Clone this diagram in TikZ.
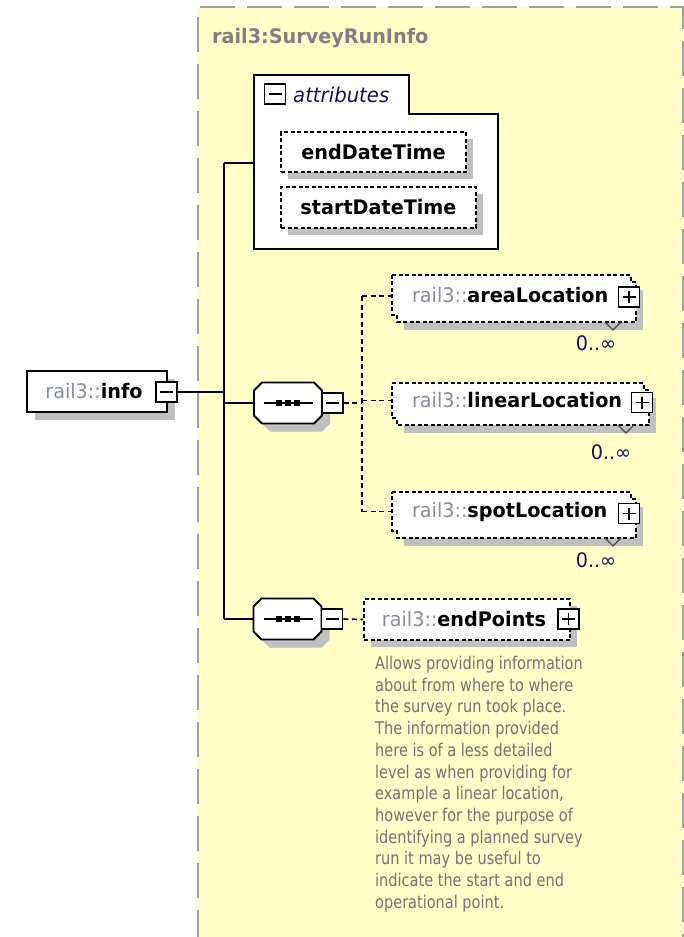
\documentclass[tikz,border=0pt]{standalone}
\usepackage{fontspec}
\usetikzlibrary{shadows,calc}
\newfontfamily\namefont[FakeStretch=0.96]{DejaVu Sans}
\newfontfamily\docfont[FakeStretch=0.83]{DejaVu Sans}
\definecolor{bgyellow}{RGB}{255,255,200}
\definecolor{bordergray}{RGB}{160,160,160}
\definecolor{shadowgray}{RGB}{192,192,192}
\definecolor{pfxgray}{RGB}{140,140,155}
\definecolor{titlegray}{RGB}{128,128,128}
\definecolor{doccolor}{RGB}{115,115,115}
\definecolor{navy}{RGB}{20,20,80}
\tikzset{
  conn/.style={line width=1.8pt, black},
  dconn/.style={line width=1.6pt, black, dash pattern=on 5pt off 3.5pt},
  namefnt/.style={font=\namefont\fontsize{20}{24}\selectfont},
  elbox/.style={draw, line width=1.8pt, fill=white, inner sep=0pt, namefnt},
  dashbox/.style={elbox, line width=1.6pt, dash pattern=on 4pt off 2.5pt},
  shadowed/.style={drop shadow={shadow xshift=#1, shadow yshift=-#1, fill=shadowgray, opacity=1}},
  pmbase/.style={draw=black, fill=white, line width=1.8pt, minimum width=21pt, minimum height=20pt, inner sep=0pt},
  minusbox/.style={pmbase, path picture={\draw[black, line width=1.6pt] ($(path picture bounding box.west)+(4,0)$) -- ($(path picture bounding box.east)+(-4,0)$);}},
  plusbox/.style={pmbase, path picture={\draw[black, line width=1.6pt] ($(path picture bounding box.west)+(4,0)$) -- ($(path picture bounding box.east)+(-4,0)$) ($(path picture bounding box.north)+(0,4)$) -- ($(path picture bounding box.south)+(0,-4)$);}},
  occ/.style={namefnt, text=navy, inner sep=0pt},
  frame/.style={inner sep=0pt, draw=none},
}
% multi-occurrence element: name, x1, y1, x2, y2, local name, label position
\newcommand\multiel[7]{%
  \fill[shadowgray] (#2+12,#3+15) rectangle (#4+12,#5+15);
  \filldraw[fill=white, draw=black, line width=1.6pt, dash pattern=on 4pt off 2.5pt]
    (#2,#3) -- (#4,#3) -- (#4,#3+7) -- (#4+5,#3+7) -- (#4+5,#5+7) -- (#2+5,#5+7) -- (#2+5,#5) -- (#2,#5) -- cycle;
  \draw[line width=1.3pt, black!70] (#4-26,#5+7) -- (#4-18,#5+15) -- (#4-10,#5+7);
  \node[frame, minimum width={#4-#2}, minimum height={#5-#3}] (#1) at ({(#2+#4)/2},{(#3+#5)/2}) {};
  \node[namefnt, inner sep=0pt, anchor=west] (#1-label) at ([xshift=20pt]#1.west) {\textcolor{pfxgray}{rail3::}\textbf{#6}};
  \node[plusbox] (#1-plus) at (#4-2,{(#3+#5)/2+2}) {};
  \node[occ] (#1-occ) at (#7) {0..∞};
}
% sequence compositor: name, cx, cy
\newcommand\seqel[3]{%
  \fill[shadowgray] (#2-26+8,#3-20.5+8) -- (#2+26+8,#3-20.5+8) -- (#2+34+8,#3-12.5+8) -- (#2+34+8,#3+12.5+8) -- (#2+26+8,#3+20.5+8) -- (#2-26+8,#3+20.5+8) -- (#2-34+8,#3+12.5+8) -- (#2-34+8,#3-12.5+8) -- cycle;
  \filldraw[fill=white, draw=black, line width=1.8pt] (#2-26,#3-20.5) -- (#2+26,#3-20.5) -- (#2+34,#3-12.5) -- (#2+34,#3+12.5) -- (#2+26,#3+20.5) -- (#2-26,#3+20.5) -- (#2-34,#3+12.5) -- (#2-34,#3-12.5) -- cycle;
  \node[frame, minimum width=68pt, minimum height=41pt] (#1) at (#2,#3) {};
  \draw[line width=1.5pt] (#2-24,#3) -- (#2+25,#3);
  \foreach \dx in {-9,0,9} {\fill (#2+\dx-3,#3-3) rectangle (#2+\dx+3,#3+3);}
  \node[minusbox] (#1-minus) at (#2+44.5,#3) {};
}
\begin{document}
\begin{tikzpicture}[x=1pt,y=-1pt]
\useasboundingbox (0,0) rectangle (684,937);
% complex type area
\fill[bgyellow] (198,7) rectangle (683,945);
\draw[bordergray, line width=1.8pt, dash pattern=on 35pt off 12pt] (198,945) -- (198,7) -- (683,7) -- (683,945);
\node[font=\namefont\fontsize{20}{24}\selectfont\bfseries, text=titlegray, anchor=west, inner sep=0pt] (title) at (212,38) {rail3:SurveyRunInfo};

% attributes group
\filldraw[fill=white, draw=black, line width=1.8pt] (254,75) -- (409,75) -- (409,114) -- (498,114) -- (498,249) -- (254,249) -- cycle;
\node[frame, minimum width=244pt, minimum height=174pt] (attr) at (376,163) {};
\node[minusbox] (attr-minus) at (275,94) {};
\node[font=\namefont\fontsize{20.5}{24}\selectfont, text=navy, anchor=west, inner sep=0pt] (attr-title) at (293,95) {\itshape attributes};
\node[dashbox, shadowed=7pt, minimum width=185pt, minimum height=40pt] (enddt) at (373.5,152) {\textbf{endDateTime}};
\node[dashbox, shadowed=7pt, minimum width=195pt, minimum height=41pt] (startdt) at (378.5,207.5) {\textbf{startDateTime}};

% root element
\node[elbox, shadowed=8pt, minimum width=140pt, minimum height=41pt] (info) at (97,391.5) {\textcolor{pfxgray}{rail3::}\textbf{info}\hspace*{6pt}};
\node[minusbox] (info-minus) at (166.5,392) {};

% sequences
\seqel{seqa}{288}{403}
\seqel{seqb}{287.5}{619}

% child elements
\multiel{area}{392}{275}{631}{315}{areaLocation}{596,343}
\multiel{linear}{392}{383}{644}{418}{linearLocation}{611,452}
\multiel{spot}{392}{492}{631}{531}{spotLocation}{596,560}

\node[dashbox, shadowed=7pt, minimum width=206pt, minimum height=41pt] (endpts) at (467,619.5) {\textcolor{pfxgray}{rail3::}\textbf{endPoints}\hspace*{6pt}};
\node[plusbox] (endpts-plus) at (568.5,619) {};

\node[font=\docfont\fontsize{17.5}{21.7}\selectfont, text=doccolor, align=left, anchor=north west, inner sep=0pt] (doc) at (375,656) {Allows providing information\\about from where to where\\the survey run took place.\\The information provided\\here is of a less detailed\\level as when providing for\\example a linear location,\\however for the purpose of\\identifying a planned survey\\run it may be useful to\\indicate the start and end\\operational point.};

% connectors
\coordinate (spine) at (224,0);
\coordinate (cspine) at (362,0);
\draw[conn] (info-minus.east) -- (info-minus.east -| spine);
\draw[conn] (attr.west -| spine) -- (seqb.west -| spine);
\draw[conn] (attr.west -| spine) -- (attr.west);
\draw[conn] (seqa.west -| spine) -- (seqa.west);
\draw[conn] (seqb.west -| spine) -- (seqb.west);
\draw[dconn] (seqa-minus.east) -- (seqa-minus.east -| cspine);
\draw[dconn] ([yshift=-1pt]area.west -| cspine) -- (spot.west -| cspine);
\draw[dconn] ([yshift=-1pt]area.west -| cspine) -- ([yshift=-1pt]area.west);
\draw[dconn] (linear.west -| cspine) -- (linear.west);
\draw[dconn] (spot.west -| cspine) -- (spot.west);
\draw[dconn] (seqb-minus.east) -- (endpts.west);
\end{tikzpicture}
\end{document}
